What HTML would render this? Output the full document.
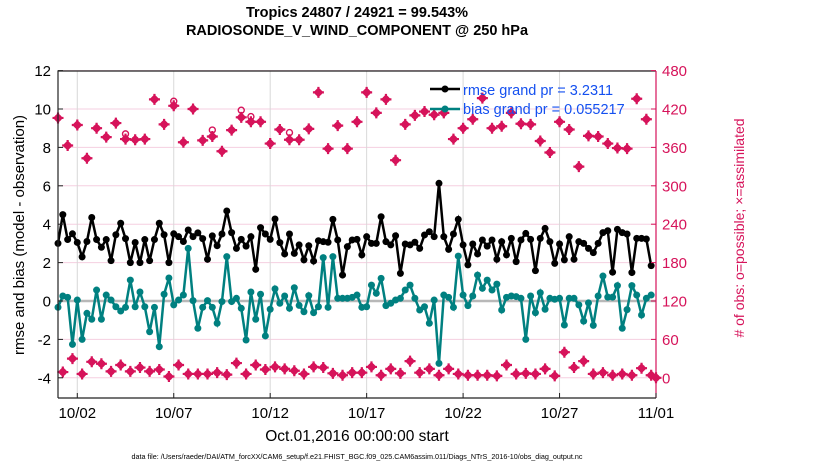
<!DOCTYPE html>
<html><head><meta charset="utf-8"><style>
body{margin:0;background:#fff;}
svg{display:block;font-family:"Liberation Sans",sans-serif;}
</style></head><body>
<svg id="chart" width="830" height="470" viewBox="0 0 830 470">
<text x="357" y="17" text-anchor="middle" font-size="14.5" font-weight="bold">Tropics 24807 / 24921 = 99.543%</text>
<text x="357" y="35" text-anchor="middle" font-size="14.5" font-weight="bold">RADIOSONDE_V_WIND_COMPONENT @ 250 hPa</text>
<g id="grid"></g>
<g id="marks"></g>
<g id="axes"></g>
<text transform="translate(24,235) rotate(-90)" text-anchor="middle" font-size="15">rmse and bias (model - observation)</text>
<text transform="translate(744,228) rotate(-90)" text-anchor="middle" font-size="14" fill="#d6135a"># of obs: o=possible; ×=assimilated</text>
<text x="357" y="441" text-anchor="middle" font-size="15.5">Oct.01,2016 00:00:00 start</text>
<text x="357" y="459" text-anchor="middle" font-size="7.2">data file: /Users/raeder/DAI/ATM_forcXX/CAM6_setup/f.e21.FHIST_BGC.f09_025.CAM6assim.011/Diags_NTrS_2016-10/obs_diag_output.nc</text>
<g>
<line x1="430" y1="89" x2="460" y2="89" stroke="#000" stroke-width="2.5"/>
<circle cx="445" cy="89" r="3.5" fill="#000"/>
<text x="463" y="95" font-size="14.5" fill="#1450f0">rmse grand pr = 3.2311</text>
<line x1="430" y1="109" x2="460" y2="109" stroke="#008080" stroke-width="2.5"/>
<circle cx="445" cy="109" r="3.5" fill="#008080"/>
<text x="463" y="114" font-size="14.5" fill="#1450f0">bias grand pr = 0.055217</text>
</g>
</svg>
<script>
const rmse=[3.0,4.5,3.2,3.5,3.05,2.3,3.1,4.35,3.2,2.8,3.2,2.1,3.45,4.05,3.25,2.0,3.05,2.0,3.2,2.1,3.2,4.05,3.45,2.0,3.5,3.35,3.1,3.7,3.35,3.55,3.25,
2.17,3.39,2.88,3.49,4.69,3.56,2.74,3.21,2.86,3.35,1.65,3.82,3.49,3.21,4.27,3.04,2.45,3.49,2.48,2.92,2.14,2.88,2.08,3.14,3.09,3.06,4.25,3.18,1.35,
2.83,3.18,3.21,2.4,3.35,3.0,3.0,4.39,3.09,2.92,3.4,1.44,2.97,2.92,3.06,2.74,3.44,3.61,3.35,6.13,3.35,2.69,3.49,4.25,2.92,1.88,2.97,2.45,3.18,
2.86,3.18,2.17,3.09,2.4,3.26,2.05,3.18,3.52,3.21,1.58,3.26,3.78,3.09,1.96,2.97,
2.14,3.35,2.17,3.09,3.0,2.74,2.52,3.0,3.56,3.66,1.5,3.73,3.56,3.49,1.48,3.26,3.26,3.23,1.84];
const bias=[-0.33,0.26,0.19,-2.26,0.05,-2.0,-0.64,-0.95,0.57,-0.95,0.31,0.05,-0.3,-0.52,-0.33,1.09,-0.3,0.47,-0.3,-1.6,-0.33,-2.38,0.35,1.2,-0.2,0.05,0.31,2.74,0.02,-1.42,-0.33,
0.02,-0.33,-1.16,-0.03,2.31,-0.03,0.14,-0.38,-2.03,0.47,-0.95,0.35,-1.82,-0.43,0.63,-0.12,0.26,-0.38,0.69,-0.23,-0.56,0.28,-0.61,-0.3,2.26,-0.33,2.31,0.14,0.14,
0.14,0.19,0.31,-0.33,-0.3,0.83,0.4,1.18,-0.24,-0.12,0.05,0.14,0.57,0.83,0.14,-0.47,-0.3,-1.16,0.05,-3.25,0.31,0.19,-0.33,2.34,0.31,-0.24,0.26,1.35,0.66,
1.09,0.57,0.88,-0.47,0.19,0.26,0.23,0.14,-2.0,0.26,-0.61,0.43,-0.43,0.14,0.09,0.14,
-1.25,0.14,0.14,-0.2,-1.05,-0.1,-1.27,0.26,1.3,0.2,0.2,0.8,-1.42,-0.45,0.8,0.31,-0.73,0.14,0.31];
const obsAssim=[406,9,363,30,395,6,343,25,390,22,376,10,398,20,373,10,372,16,373,10,435,13,396,2,425,20,368,6,420,6,
371,6,377,8,354,5,387,23,407,6,400,20,400,13,366,17,388,14,372,11,372,6,389,17,446,16,358,7,394,4,
358,8,400,8,446,17,414,4,435,14,340,7,396,26,410,8,416,14,411,4,414,14,373,6,390,4,404,4,437,4,
390,3,393,20,414,6,397,7,396,6,370,14,352,3,400,40,388,16,330,26,378,6,377,8,366,4,359,6,358,4,436,15,404,4,0];
const possibleExtra=[[14,5],[24,4],[32,7],[38,8],[40,5],[48,8]];
const xTickDays=[1,6,11,16,21,26,31];
const xTickLabels=["10/02","10/07","10/12","10/17","10/22","10/27","11/01"];
const yLeftTicks=[-4,-2,0,2,4,6,8,10,12];
const yRightTicks=[0,60,120,180,240,300,360,420,480];

const NS="http://www.w3.org/2000/svg";
const L=58,R=656,T=71,B=398;
const xDay=d=>L+(R-L)*d/31;
const xIdx=i=>xDay(i*0.25);
const yL=v=>301-19.2*v;
const yR=c=>yL(c/30-4);
function mk(tag,attrs,parent){const e=document.createElementNS(NS,tag);for(const k in attrs)e.setAttribute(k,attrs[k]);parent.appendChild(e);return e;}
const grid=document.getElementById('grid'),marks=document.getElementById('marks'),axes=document.getElementById('axes');
yLeftTicks.forEach(v=>{const l=mk('line',{x1:L,x2:R,y1:yL(v),y2:yL(v),stroke:'#f5cfe0','stroke-width':1},grid);

});
xTickDays.forEach(d=>{const l=mk('line',{x1:xDay(d),x2:xDay(d),y1:T,y2:B,stroke:'#d8d8d8','stroke-width':1},grid);

});
const z=mk('line',{x1:L,x2:R,y1:yL(0),y2:yL(0),stroke:'#b8b8b8','stroke-width':2.5},grid);


obsAssim.forEach((c,i)=>{const x=xIdx(i),y=yR(c);
const g=mk('g',{},marks);


mk('path',{d:`M${x-5},${y}L${x},${y-5}L${x+5},${y}L${x},${y+5}Z`,fill:'#d6135a'},g);
mk('path',{d:`M${x-5.5},${y}H${x+5.5}M${x},${y-5.5}V${y+5.5}`,stroke:'#d6135a','stroke-width':2.2},g);
mk('circle',{cx:x,cy:y,r:3.6,fill:'#d6135a'},g);
});
possibleExtra.forEach(p=>{const i=p[0];const y=yR(obsAssim[i]+p[1]);
const c=mk('circle',{cx:xIdx(i),cy:y-2,r:3,fill:'none',stroke:'#d6135a','stroke-width':1.4},marks);

});
function series(arr,color,name){
const p=mk('polyline',{points:arr.map((v,i)=>xIdx(i)+','+yL(v)).join(' '),fill:'none',stroke:color,'stroke-width':2.5},marks);


arr.forEach((v,i)=>{const c=mk('circle',{cx:xIdx(i),cy:yL(v),r:3.5,fill:color},marks);

});
}
series(bias,'#008080','bias');
series(rmse,'#000000','rmse');
mk('path',{d:`M${L},${B}V${T}H${R}`,fill:'none',stroke:'#222','stroke-width':1.2},axes);
mk('line',{x1:L,x2:R,y1:B,y2:B,stroke:'#222','stroke-width':1.2},axes);
mk('line',{x1:R,x2:R,y1:T,y2:B,stroke:'#d6135a','stroke-width':1.2},axes);
yLeftTicks.forEach(v=>{mk('line',{x1:L,x2:L+5,y1:yL(v),y2:yL(v),stroke:'#222'},axes);
const t=mk('text',{x:L-7,y:yL(v)+5.5,'text-anchor':'end','font-size':15},axes);t.textContent=v;

});
yRightTicks.forEach(c=>{mk('line',{x1:R-5,x2:R,y1:yR(c),y2:yR(c),stroke:'#d6135a'},axes);
const t=mk('text',{x:R+6,y:yR(c)+5.5,'font-size':15,fill:'#d6135a'},axes);t.textContent=c;

});
xTickDays.forEach((d,k)=>{mk('line',{x1:xDay(d),x2:xDay(d),y1:B,y2:B-5,stroke:'#222'},axes);
const t=mk('text',{x:xDay(d),y:418,'text-anchor':'middle','font-size':15},axes);t.textContent=xTickLabels[k];

});
</script>
</body></html>
